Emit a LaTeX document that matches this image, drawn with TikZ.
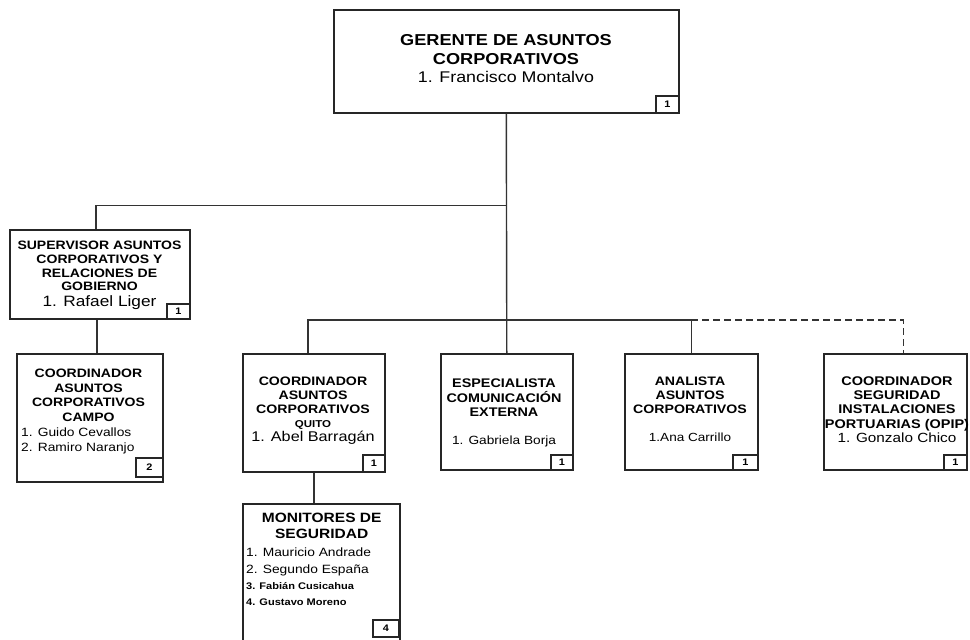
\documentclass[tikz,border=0pt]{standalone}
\usepackage{fontspec}
\setmainfont{Liberation Sans}[FakeStretch=1.15]
\begin{document}
\begin{tikzpicture}[x=1pt,y=-1pt,
  box/.style={draw=black!85, line width=1.6pt, inner sep=0pt, anchor=north west},
  count/.style={draw=black!85, line width=1.6pt, inner sep=0pt, minimum width=23pt,
    minimum height=17pt, anchor=south east, font=\bfseries\fontsize{9.5}{10}\selectfont},
  link/.style={draw=black!80, line width=1.4pt},
  title/.style={align=center, inner sep=0pt, anchor=north, font=\bfseries\fontsize{12.3}{14.2}\selectfont},
  names/.style={align=left, inner sep=0pt, anchor=north west, font=\fontsize{12}{14.5}\selectfont},
]
\useasboundingbox (0,0) rectangle (970,640);

% boxes
\node[box, minimum width=345, minimum height=103] (gerente) at (333,9) {};
\node[box, minimum width=180, minimum height=89] (supervisor) at (9,229) {};
\node[box, minimum width=146, minimum height=128] (campo) at (16,353) {};
\node[box, minimum width=142, minimum height=118] (quito) at (242,353) {};
\node[box, minimum width=132, minimum height=116] (especialista) at (440,353) {};
\node[box, minimum width=133, minimum height=116] (analista) at (624,353) {};
\node[box, minimum width=143, minimum height=116] (opip) at (823,353) {};
\node[box, minimum width=157, minimum height=141] (monitores) at (242,503) {};

% head-count tags
\node[count] (gerente-n) at (gerente.south east) {1};
\node[count, minimum height=15] (supervisor-n) at (supervisor.south east) {1};
\node[count, minimum width=27, minimum height=19] (campo-n) at ([yshift=5]campo.south east) {2};
\node[count, minimum width=22] (quito-n) at (quito.south east) {1};
\node[count, minimum width=22, minimum height=15] (especialista-n) at (especialista.south east) {1};
\node[count, minimum width=25, minimum height=15] (analista-n) at (analista.south east) {1};
\node[count, minimum width=23, minimum height=15] (opip-n) at (opip.south east) {1};
\node[count, minimum width=26, minimum height=17] (monitores-n) at ([xshift=-1,yshift=8]monitores.south east) {4};

% connectors
\coordinate (j1) at (506,205.5);
\coordinate (j2) at (506,320);
\draw[link] (gerente.south) -- (especialista.north);
\draw[link] (j1) -| ([xshift=-4]supervisor.north);
\draw[link] ([xshift=-3]supervisor.south) -- ([xshift=-3]supervisor.south |- campo.north);
\draw[link] (j2) -| ([xshift=-6]quito.north);
\draw[link] (j2) -| (analista.north);
\draw[link, dashed, dash pattern=on 7pt off 4pt] (analista.north |- j2) -| ([xshift=8]opip.north);
\draw[link] (quito.south) -- (quito.south |- monitores.north);

% texts
\node[title, font=\bfseries\fontsize{15.8}{18.5}\selectfont] (gerente-t) at (506,34.7)
  {GERENTE DE ASUNTOS\\CORPORATIVOS\\{\mdseries\fontsize{15.5}{18.5}\selectfont 1. Francisco Montalvo}};
\node[title, font=\bfseries\fontsize{12.2}{13.8}\selectfont] (supervisor-t) at (99.5,240.7)
  {SUPERVISOR ASUNTOS\\CORPORATIVOS Y\\RELACIONES DE\\GOBIERNO\\[1.5pt]{\mdseries\fontsize{15}{16}\selectfont 1. Rafael Liger}};
\node[title, font=\bfseries\fontsize{12.2}{14.5}\selectfont] (campo-t) at (88.5,369)
  {COORDINADOR\\ASUNTOS\\CORPORATIVOS\\CAMPO};
\node[names] (campo-p) at (21,428) {1. Guido Cevallos\\2. Ramiro Naranjo};
\node[title, font=\bfseries\fontsize{12.3}{14}\selectfont] (quito-t) at (313,377)
  {COORDINADOR\\ASUNTOS\\CORPORATIVOS\\{\fontsize{10}{11}\selectfont QUITO}\\{\mdseries\fontsize{14.1}{15}\selectfont 1. Abel Barragán}};
\node[title, font=\bfseries\fontsize{12.5}{14.5}\selectfont] (especialista-t) at (504,379)
  {ESPECIALISTA\\COMUNICACIÓN\\EXTERNA\\[13pt]{\mdseries\fontsize{11.9}{13}\selectfont 1. Gabriela Borja}};
\node[title, font=\bfseries\fontsize{12.3}{14}\selectfont] (analista-t) at (690,377)
  {ANALISTA\\ASUNTOS\\CORPORATIVOS\\[14pt]{\mdseries\fontsize{11.8}{13}\selectfont 1.Ana Carrillo}};
\node[title, font=\bfseries\fontsize{12.6}{14.4}\selectfont] (opip-t) at (897,376)
  {COORDINADOR\\SEGURIDAD\\INSTALACIONES\\PORTUARIAS (OPIP)\\{\mdseries\fontsize{13.3}{15}\selectfont 1. Gonzalo Chico}};
\node[title, font=\bfseries\fontsize{13.5}{16}\selectfont] (monitores-t) at (321.7,513)
  {MONITORES DE\\SEGURIDAD};
\node[names, font=\fontsize{12}{16.3}\selectfont] (monitores-p) at (246,548)
  {1. Mauricio Andrade\\2. Segundo España\\{\bfseries\fontsize{9.6}{11}\selectfont 3. Fabián Cusicahua}\\{\bfseries\fontsize{9.6}{11}\selectfont 4. Gustavo Moreno}};
\end{tikzpicture}
\end{document}
